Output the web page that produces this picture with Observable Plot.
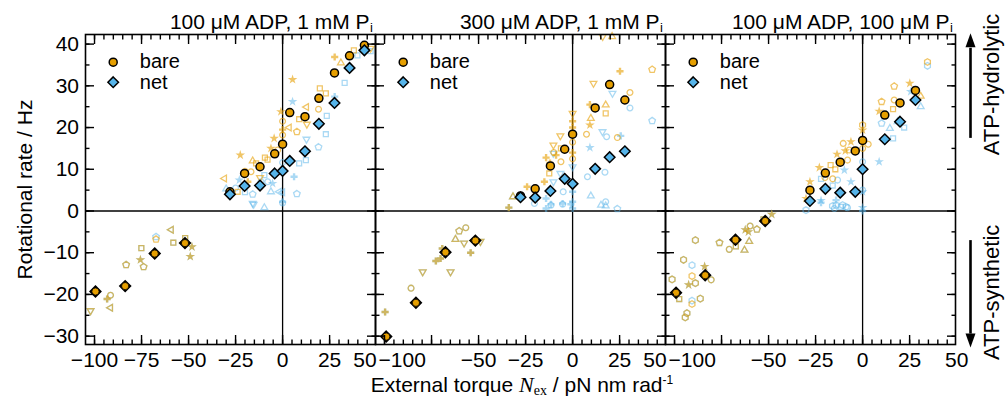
<!DOCTYPE html>
<html><head><meta charset="utf-8">
<script src="https://cdn.jsdelivr.net/npm/d3@7"></script>
<script src="https://cdn.jsdelivr.net/npm/@observablehq/plot@0.6"></script>
<style>
body{margin:0;background:#fff;}
#wrap{position:relative;width:1005px;height:398px;font-family:"Liberation Sans",Arial,sans-serif;color:#000;}
#xlabel{position:absolute;left:522px;top:372.5px;transform:translateX(-50%);white-space:nowrap;font-size:21px;line-height:24px;}
#xlabel .N{font-family:"Liberation Serif","Times New Roman",serif;font-style:italic;font-size:22px;}
#xlabel sub{font-family:"Liberation Serif","Times New Roman",serif;font-size:14px;line-height:0;vertical-align:-3px;}
#xlabel sup{font-size:12px;line-height:0;vertical-align:8px;}
</style></head><body><div id="wrap"><div id="xlabel">External torque <span class="N">N</span><sub>ex</sub> / pN nm rad<sup>-1</sup></div></div>
<script>
// ---------- data ----------
const panelKeys = ["a", "b", "c"];
const titles = ["100 μM ADP, 1 mM P", "300 μM ADP, 1 mM P", "100 μM ADP, 100 μM P"];

// averaged data (ATP-hydrolytic side)
const torqueA = [-28, -20.2, -12, -4.2, 0, 3.8, 11.9, 19.3, 27.6, 35.6, 43.5];
const bareA   = [4.6, 9.0, 10.6, 13.7, 16.0, 23.6, 22.6, 27.0, 33.1, 37.2, 39.7];
const netA    = [4.0, 6.0, 6.1, 9.0, 9.6, 12.0, 14.3, 20.9, 25.9, 34.3, 38.5];
const torqueB = [-27.7, -19.9, -11.8, -4.2, 0, 12, 19.7, 27.8];
const bareB   = [3.6, 5.3, 10.8, 14.8, 18.4, 24.7, 30.3, 26.6];
const netB    = [3.3, 3.2, 4.8, 7.7, 6.5, 10.1, 12.9, 14.3];
const torqueC = [-28, -19.8, -11.9, -3.9, 0, 11.8, 19.9, 28.1];
const bareC   = [5.0, 9.1, 11.7, 14.4, 16.9, 23.0, 25.9, 28.9];
const netC    = [2.4, 5.3, 4.4, 4.6, 10.0, 17.2, 21.4, 26.6];
// averaged data (ATP-synthetic side, bare = net)
const synthTorqueA = [-99.5, -83.7, -68.0, -51.9];
const synthA       = [-19.3, -18.0, -10.2, -7.7];
const synthTorqueB = [-99.1, -83.3, -67.6, -51.7];
const synthB       = [-30.1, -22.0, -9.9, -7.1];
const synthTorqueC = [-99.2, -83.7, -67.6, -51.8];
const synthC       = [-19.6, -15.4, -6.9, -2.4];

// individual molecules [torque, rate, symbol]
const faintBareA = [
 [5.3,31.5,"*"],[27.7,36.9,"x"],[19.8,29.4,"s"],[23.0,28.2,"s"],[12.7,24.9,"<"],[19.1,24.4,"o"],
 [8.8,22.0,"s"],[12.9,20.8,"v"],[7.6,19.0,"p"],[3.5,20.0,"<"],[-0.9,23.8,"*"],[0,21.5,"o"],
 [0,19.5,"x"],[0,18.2,"o"],[-4.5,17.4,"*"],[-22.5,13.4,"*"],[-30.9,7.8,"<"],[-9.4,12.8,"s"],
 [-8,12.3,"s"],[-15.9,12.0,"^"],[-14.1,11.4,"s"],[-16.8,9.4,"o"],[-23.9,4.6,"s"],[-18.5,7.0,"x"],
 [-6.2,15.0,"*"],[37.9,38.5,"s"],[46.8,39.0,"v"],[-2.6,14.6,"o"],[31,35.5,"^"],[-12,8,"v"],[-20,9.5,"o"],
 [-67.3,-6.8,"p"]
];
const faintNetA = [
 [5.3,26.2,"*"],[27.7,27.4,"x"],[33.0,30.7,"s"],[39.8,37.3,"s"],[46.8,38.3,"s"],[23.5,22.8,"s"],
 [23.0,18.4,"s"],[19.1,15.3,"p"],[12.7,17.2,"v"],[12.4,12.2,"s"],[8.8,11.4,"s"],[6.1,8.2,"x"],
 [7.6,4.1,"p"],[0,11.6,"o"],[0,10.0,"x"],[0,4.5,"<"],[0,2.2,"x"],[-1.8,4.6,"<"],[-5.3,6.6,"*"],
 [-6.2,4.6,"^"],[-7.9,7.0,"o"],[-9.7,8.6,"s"],[-11.5,7.0,"o"],[-15.9,4.0,"p"],[-15.9,1.8,"v"],
 [-9.7,0.8,"^"],[-23,7.4,"*"],[-30,5.3,"^"],[-15.4,1.6,"v"],[0,1.9,"o"],[-20,4.5,"s"],[-25,5.5,"o"],
 [-67.3,-6.2,"p"]
];
const faintBothA = [
 [-59.2,-4.5,"<"],[-58.1,-7.6,"s"],[-51.8,-6.5,"s"],[-75.1,-8.9,"s"],[-75.6,-11.7,"*"],
 [-73.9,-13.4,"p"],[-83.2,-12.9,"p"],[-48.2,-8.6,"*"],[-49.1,-10.9,"*"],[-91.5,-20.2,"o"],
 [-93.3,-21.1,"x"],[-91.5,-23.2,"<"],[-102.1,-23.9,"v"]
];
const faintBareB = [
 [42.3,33.9,"p"],[25.2,33.5,"x"],[11.1,30.6,"v"],[30.5,28.4,"o"],[17.6,25.4,"^"],[17.6,23.4,"s"],
 [9.2,25.5,"x"],[9.7,22.2,"^"],[9.2,20.6,"*"],[7.4,18.4,"o"],[23.8,17.6,"o"],[0,23.4,"v"],
 [0,21.5,"x"],[0,20,"x"],[0,16.5,"o"],[0,14,"x"],[0,12.5,"o"],[-6.5,18.0,"v"],[-10.2,15.8,"v"],
 [-6.2,15.0,"s"],[-8.8,13.4,"x"],[-6.2,11.8,"o"],[-14.1,12.8,"x"],[-15.0,7.0,"x"],[-24.2,5.8,"x"],
 [-12.4,9.0,"s"],[16,41.8,"v"],[21,41.8,"^"],[-10,14,"o"],[-12,11.5,"x"]
];
const faintNetB = [
 [42.3,21.6,"p"],[30.5,24.7,"o"],[25.6,18.0,"x"],[21.2,28.2,"v"],[18.1,17.8,"o"],[15.9,19.0,"v"],
 [9.2,15.2,"*"],[17.2,9.3,"o"],[7.9,8.2,"o"],[9.7,3.6,"^"],[17.6,2.2,"o"],[15.1,1.4,"^"],
 [23.8,0.5,"p"],[0,10.6,"v"],[0,4.6,"x"],[0,2.2,"x"],[0,0.6,"x"],[-6.5,9.0,"v"],[-10.2,7.0,"v"],
 [-10.2,13.8,"v"],[-5.0,4.6,"o"],[-14.1,3.0,"x"],[-14.1,0.6,"x"],[-5.3,1.8,"x"],[-11.5,1.4,"o"],
 [-20.3,1.8,"o"],[-11.5,1.6,"x"],[-5.3,1.6,"o"],[-0.9,1.6,"x"],[17.6,1.2,"^"]
];
const faintBothB = [
 [-31.7,3.4,"^"],[-33.9,0.8,"x"],
 [-56.8,-4.0,"o"],[-60.3,-4.8,"p"],[-62.3,-6.8,"^"],[-57.7,-7.7,"v"],[-49.0,-7.3,"v"],
 [-54.2,-10.0,"x"],[-69.3,-9.0,"x"],[-72.7,-12.0,"x"],[-70.2,-11.4,"x"],[-79.7,-14.6,"v"],
 [-64.9,-14.6,"v"],[-85.9,-18.5,"o"],[-99.7,-24.2,"x"]
];
const faintBareC = [
 [34.5,35.7,"h"],[16.8,29.9,"p"],[25.1,30.6,"*"],[30.9,27.5,"^"],[10.1,26.2,"p"],[8.8,23.9,"*"],
 [16.8,26.6,"o"],[16.2,24.4,"s"],[0,20.6,"h"],[0,19.4,"*"],[0,15.0,"o"],[-6.2,16.6,"*"],
 [-10.3,16.2,"o"],[-7.1,14.6,"o"],[-13.6,13.6,"*"],[-9.2,14.4,"*"],[-8.0,12.2,"o"],[-23.0,10.4,"*"],
 [-14.5,10.0,"s"],[-15.9,7.7,"o"],[-28.0,7.0,"*"],[-30.1,3.0,"*"],[-20,8,"o"],[-17,11,"s"],[3,16,"o"],
 [-90.7,-15.6,"h"],[-90.7,-22.3,"h"]
];
const faintNetC = [
 [34.5,34.8,"h"],[25.6,28.6,"*"],[30.9,25.0,"^"],[22.1,20.0,"s"],[18.6,21.4,"^"],[14.5,19.8,"^"],
 [16.2,17.4,"s"],[10.1,21.0,"p"],[0,11.8,"o"],[0,5.0,"o"],[0,4.6,"*"],[0,0.8,"*"],[8.8,11.8,"*"],
 [-9.7,9.8,"*"],[-6.2,7.0,"*"],[-15.9,6.1,"s"],[-13.3,7.4,"o"],[-22.1,7.7,"s"],[-22.1,2.5,"*"],
 [-14.1,2.6,"x"],[-14.1,1.4,"h"],[-11.5,1.0,"s"],[-8.8,1.0,"h"],[-15.0,0.6,"o"],[-30.1,0.2,"h"],
 [-22.1,2.0,"x"],[-10.6,1.4,"h"],[-8.0,0.8,"o"],[0,0,"x"],[-16,1.2,"h"],
 [-90.7,-13.0,"h"],[-90.7,-21.5,"h"]
];
const faintBothC = [
 [-48.3,-0.8,"*"],[-52.7,-2.0,"s"],[-56.2,-4.4,"p"],[-59.8,-3.6,"o"],[-62.4,-4.5,"*"],[-60.7,-5.0,"*"],
 [-60.3,-7.3,"^"],[-62.8,-9.4,"^"],[-67.4,-8.5,"s"],[-70.9,-9.2,"o"],[-76.1,-7.6,"p"],[-88.9,-7.0,"h"],
 [-95.2,-11.7,"h"],[-84.0,-13.3,"*"],[-92.5,-17.7,"*"],[-88.9,-17.3,"h"],[-80.5,-16.5,"o"],
 [-101.3,-16.4,"h"],[-97.5,-21.1,"s"],[-86.3,-21.0,"h"],[-93.4,-24.5,"h"],[-94.3,-25.5,"h"]
];

// axes
const xDomain = [-104.8, 49.4];
const yDomain = [-32, 42.3];
const yMajor = [-30, -20, -10, 0, 10, 20, 30, 40];
const yMinor = [-30, -25, -20, -15, -10, -5, 0, 5, 10, 15, 20, 25, 30, 35, 40];
const xMajor = [-100, -75, -50, -25, 0, 25];
const xMinor = [-100,-95,-90,-85,-80,-75,-70,-65,-60,-55,-50,-45,-40,-35,-30,-25,-20,-15,-10,-5,0,5,10,15,20,25,30,35,40,45];
const xLabelsFirst = [-100, -75, -50, -25, 0, 25, 50];
const xLabelsOther = [-100, -50, -25, 0, 25, 50];
const sideLabels = [{t: "ATP-hydrolytic", y: 30.3}, {t: "ATP-synthetic", y: -19.5}];
const sideArrows = [{y1: 39, y2: 17.4, tip: 42.6, dir: "up"}, {y1: -7.1, y2: -29.5, tip: -32.7, dir: "down"}];

// ---------- build ----------
const orange = "#E69F00", blue = "#56B4E9";
function poly(n, rot, k) {
  return {draw(ctx, size) {
    const r = Math.sqrt(size / Math.PI) * k;
    for (let i = 0; i < n; i++) {
      const a = rot + 2 * Math.PI * i / n;
      const px = r * Math.sin(a), py = -r * Math.cos(a);
      i ? ctx.lineTo(px, py) : ctx.moveTo(px, py);
    }
    ctx.closePath();
  }};
}
const SYM = {
  o: d3.symbolCircle, s: poly(4, Math.PI / 4, 1.2), "^": poly(3, 0, 1.35), v: poly(3, Math.PI, 1.35),
  "<": poly(3, -Math.PI / 2, 1.35), p: poly(5, 0, 1.2), h: poly(6, 0, 1.15), "*": d3.symbolStar, x: d3.symbolCross
};
const symKeys = Object.keys(SYM);
const diamond = poly(4, 0, 1.2);
const headUp = {draw(ctx) { ctx.moveTo(0, 0); ctx.lineTo(-5, 14); ctx.lineTo(5, 14); ctx.closePath(); }};
const headDown = {draw(ctx) { ctx.moveTo(0, 0); ctx.lineTo(-5, -14); ctx.lineTo(5, -14); ctx.closePath(); }};

const fr = (panel, arr) => arr.map(([x, y, s]) => ({panel, x, y, s}));
const bareFaint = [...fr("a", faintBareA), ...fr("a", faintBothA), ...fr("b", faintBareB), ...fr("b", faintBothB), ...fr("c", faintBareC), ...fr("c", faintBothC)];
const netFaint  = [...fr("a", faintNetA), ...fr("a", faintBothA), ...fr("b", faintNetB), ...fr("b", faintBothB), ...fr("c", faintNetC), ...fr("c", faintBothC)];
const isFilled = d => d.s === "*" || d.s === "x";
const mr = (panel, xs, ys) => xs.map((x, i) => ({panel, x, y: ys[i]}));
const bareMain = [...mr("a", torqueA, bareA), ...mr("b", torqueB, bareB), ...mr("c", torqueC, bareC)];
const netMain  = [...mr("a", torqueA, netA), ...mr("b", torqueB, netB), ...mr("c", torqueC, netC)];
const synthMain = [...mr("a", synthTorqueA, synthA), ...mr("b", synthTorqueB, synthB), ...mr("c", synthTorqueC, synthC)];

const fmt = v => v < 0 ? "\u2212" + Math.abs(v) : String(v);
const xLabelRows = panelKeys.flatMap((p, i) => (i === 0 ? xLabelsFirst : xLabelsOther).map(v => ({
  panel: p, v, anchor: (v === 50 && i < 2) ? "end" : (v === -100 && i > 0) ? "start" : "middle"})));
const yLabelRows = yMajor.map(v => ({panel: panelKeys[0], v}));
const titleRows = panelKeys.map((p, i) => ({panel: p, t: titles[i]}));
const sideRows = sideLabels.map(d => ({panel: panelKeys[2], ...d}));
const arrowRows = sideArrows.map(d => ({panel: panelKeys[2], ...d}));
const xEdge = () => xDomain[1];

const faintMarks = (rows, color, op) => [
  Plot.dot(rows.filter(d => !isFilled(d)), {fx: "panel", x: "x", y: "y", symbol: "s", r: 2.9, fill: "none", stroke: color, strokeOpacity: op, strokeWidth: 1.3}),
  Plot.dot(rows.filter(isFilled), {fx: "panel", x: "x", y: "y", symbol: "s", r: 3.0, fill: color, fillOpacity: op, stroke: "none"})
];
const tk = {tickFormat: () => "", facetAnchor: null, label: null, strokeWidth: 1.4};
const FS = 21;

const chart = Plot.plot({
  width: 1005, height: 398,
  marginLeft: 84, marginRight: 50, marginTop: 34, marginBottom: 54,
  style: {background: "transparent", overflow: "visible", fontFamily: "'Liberation Sans', Arial, sans-serif"},
  fx: {domain: panelKeys, padding: 0, axis: null, label: null},
  x: {domain: xDomain},
  y: {domain: yDomain},
  symbol: {domain: symKeys, range: symKeys.map(k => SYM[k])},
  marks: [
    Plot.ruleX([0], {strokeWidth: 1.3}),
    Plot.ruleY([0], {strokeWidth: 1.3}),
    ...faintMarks(netFaint, blue, 0.5),
    ...faintMarks(bareFaint, orange, 0.6),
    Plot.dot(bareMain, {fx: "panel", x: "x", y: "y", r: 4.0, fill: orange, stroke: "black", strokeWidth: 1.5}),
    Plot.dot(netMain, {fx: "panel", x: "x", y: "y", symbol: diamond, r: 4.4, fill: blue, stroke: "black", strokeWidth: 1.5}),
    Plot.dot(synthMain, {fx: "panel", x: "x", y: "y", symbol: diamond, r: 4.5, fill: "black", stroke: "black", strokeWidth: 1.5}),
    Plot.dot(synthMain, {fx: "panel", x: "x", y: "y", r: 3.6, fill: orange, stroke: "black", strokeWidth: 0.8}),
    Plot.frame({strokeWidth: 1.6}),
    // inward ticks
    Plot.axisY(yMajor, {...tk, anchor: "left", tickSize: -9}),
    Plot.axisY(yMinor, {...tk, anchor: "left", tickSize: -4.5}),
    Plot.axisY(yMajor, {...tk, anchor: "right", tickSize: -9}),
    Plot.axisY(yMinor, {...tk, anchor: "right", tickSize: -4.5}),
    Plot.axisX(xMajor, {...tk, anchor: "bottom", tickSize: -9}),
    Plot.axisX(xMinor, {...tk, anchor: "bottom", tickSize: -4.5}),
    Plot.axisX(xMajor, {...tk, anchor: "top", tickSize: -9}),
    Plot.axisX(xMinor, {...tk, anchor: "top", tickSize: -4.5}),
    // tick labels
    Plot.text(yLabelRows, {fx: "panel", y: "v", text: d => fmt(d.v), frameAnchor: "left", textAnchor: "end", lineAnchor: "middle", dx: -6.5, fontSize: FS}),
    Plot.text(xLabelRows.filter(d => d.anchor === "middle"), {fx: "panel", x: "v", text: d => fmt(d.v), frameAnchor: "bottom", lineAnchor: "bottom", dy: 22.5, fontSize: FS}),
    Plot.text(xLabelRows.filter(d => d.anchor === "end"), {fx: "panel", x: "v", text: d => fmt(d.v), frameAnchor: "bottom", textAnchor: "end", lineAnchor: "bottom", dy: 22.5, fontSize: FS}),
    Plot.text(xLabelRows.filter(d => d.anchor === "start"), {fx: "panel", x: "v", text: d => fmt(d.v), frameAnchor: "bottom", textAnchor: "start", lineAnchor: "bottom", dx: -6, dy: 22.5, fontSize: FS}),
    // titles
    Plot.text(titleRows, {fx: "panel", text: "t", frameAnchor: "top-right", textAnchor: "end", lineAnchor: "bottom", dx: -6, dy: -5.7, fontSize: FS}),
    Plot.text(titleRows, {fx: "panel", text: () => "i", frameAnchor: "top-right", textAnchor: "start", lineAnchor: "bottom", dx: -5.5, dy: -2.5, fontSize: 13}),
    // legend (each panel)
    Plot.dot([0], {frameAnchor: "top-left", dx: 27.7, dy: 27.7, r: 4.0, fill: orange, stroke: "black", strokeWidth: 1.5}),
    Plot.dot([0], {frameAnchor: "top-left", dx: 27.7, dy: 47.7, symbol: diamond, r: 4.4, fill: blue, stroke: "black", strokeWidth: 1.5}),
    Plot.text(["bare"], {frameAnchor: "top-left", textAnchor: "start", lineAnchor: "middle", dx: 54.3, dy: 27.2, fontSize: 20}),
    Plot.text(["net"], {frameAnchor: "top-left", textAnchor: "start", lineAnchor: "middle", dx: 54.3, dy: 47.6, fontSize: 20}),
    // y axis label
    Plot.text([{panel: panelKeys[0], t: "Rotational rate / Hz"}], {fx: "panel", text: "t", frameAnchor: "left", rotate: -90, textAnchor: "middle", lineAnchor: "middle", dx: -60.7, fontSize: FS}),
    // side annotations
    Plot.ruleX(arrowRows, {fx: "panel", x: xEdge, y1: "y1", y2: "y2", dx: 15, strokeWidth: 2.6}),
    Plot.dot(arrowRows.filter(d => d.dir === "up"), {fx: "panel", x: xEdge, y: "tip", dx: 15, symbol: headUp, fill: "black", stroke: "none"}),
    Plot.dot(arrowRows.filter(d => d.dir === "down"), {fx: "panel", x: xEdge, y: "tip", dx: 15, symbol: headDown, fill: "black", stroke: "none"}),
    Plot.text(sideRows, {fx: "panel", x: xEdge, y: "y", text: "t", rotate: -90, textAnchor: "middle", lineAnchor: "middle", dx: 36.3, fontSize: 22})
  ]
});
document.getElementById("wrap").prepend(chart);
</script></body></html>
